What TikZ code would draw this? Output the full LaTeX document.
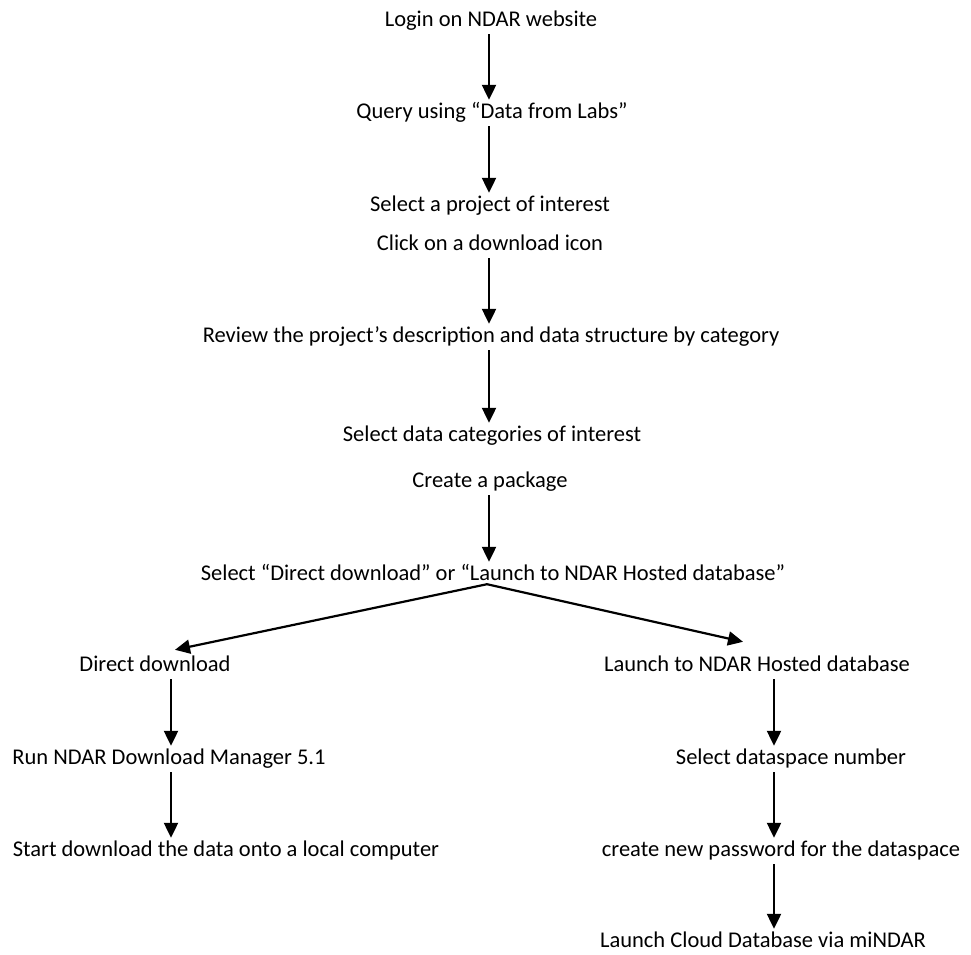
\documentclass[tikz,border=0pt]{standalone}
\usepackage{fontspec}
\setmainfont{Carlito}
\usetikzlibrary{arrows.meta}
\tikzset{
  lbl/.style={inner xsep=0pt, inner ysep=2pt, text height=16pt, text depth=6pt, font=\fontsize{22.5}{27}\selectfont},
  arr/.style={line width=2.2pt, -{Triangle[width=14pt,length=15pt]}}
}
\begin{document}
\begin{tikzpicture}[x=1pt,y=-1pt]
\useasboundingbox (0,0) rectangle (971,954);
\node[lbl] (login) at (491,21) {Login on NDAR website};
\node[lbl] (query) at (492,113) {Query using “Data from Labs”};
\node[lbl] (proj) at (490,206) {Select a project of interest};
\node[lbl] (click) at (490,245) {Click on a download icon};
\node[lbl] (review) at (491,337) {Review the project’s description and data structure by category};
\node[lbl] (cats) at (492,436) {Select data categories of interest};
\node[lbl] (pkg) at (490,482) {Create a package};
\node[lbl] (sel) at (493,575) {Select “Direct download” or “Launch to NDAR Hosted database”};
\node[lbl] (dd) at (155,666) {Direct download};
\node[lbl] (launch) at (757,666) {Launch to NDAR Hosted database};
\node[lbl] (run) at (169,759) {Run NDAR Download Manager 5.1};
\node[lbl] (start) at (226,851) {Start download the data onto a local computer};
\node[lbl] (space) at (791,759) {Select dataspace number};
\node[lbl] (pwd) at (781,851) {create new password for the dataspace};
\node[lbl] (cloud) at (763,942) {Launch Cloud Database via miNDAR};

\draw[arr] ([xshift=-2pt]login.south) -- ([xshift=-3pt]query.north);
\draw[arr] ([xshift=-3pt]query.south) -- ([xshift=-1pt]proj.north);
\draw[arr] ([xshift=-1pt]click.south) -- ([xshift=-2pt]review.north);
\draw[arr] ([xshift=-2pt]review.south) -- ([xshift=-3pt]cats.north);
\draw[arr] ([xshift=-1pt]pkg.south) -- ([xshift=-4pt]sel.north);
\draw[arr] ([xshift=-6pt,yshift=4pt]sel.south) -- ([xshift=20pt,yshift=3pt]dd.north);
\draw[arr] ([xshift=-6pt,yshift=4pt]sel.south) -- ([xshift=-14pt,yshift=11pt]launch.north);
\draw[arr] ([xshift=16pt]dd.south) -- ([xshift=2pt]run.north);
\draw[arr] ([xshift=2pt]run.south) -- ([xshift=-55pt]start.north);
\draw[arr] ([xshift=17pt]launch.south) -- ([xshift=-17pt]space.north);
\draw[arr] ([xshift=-17pt]space.south) -- ([xshift=-7pt]pwd.north);
\draw[arr] ([xshift=-7pt]pwd.south) -- ([xshift=11pt]cloud.north);
\end{tikzpicture}
\end{document}
